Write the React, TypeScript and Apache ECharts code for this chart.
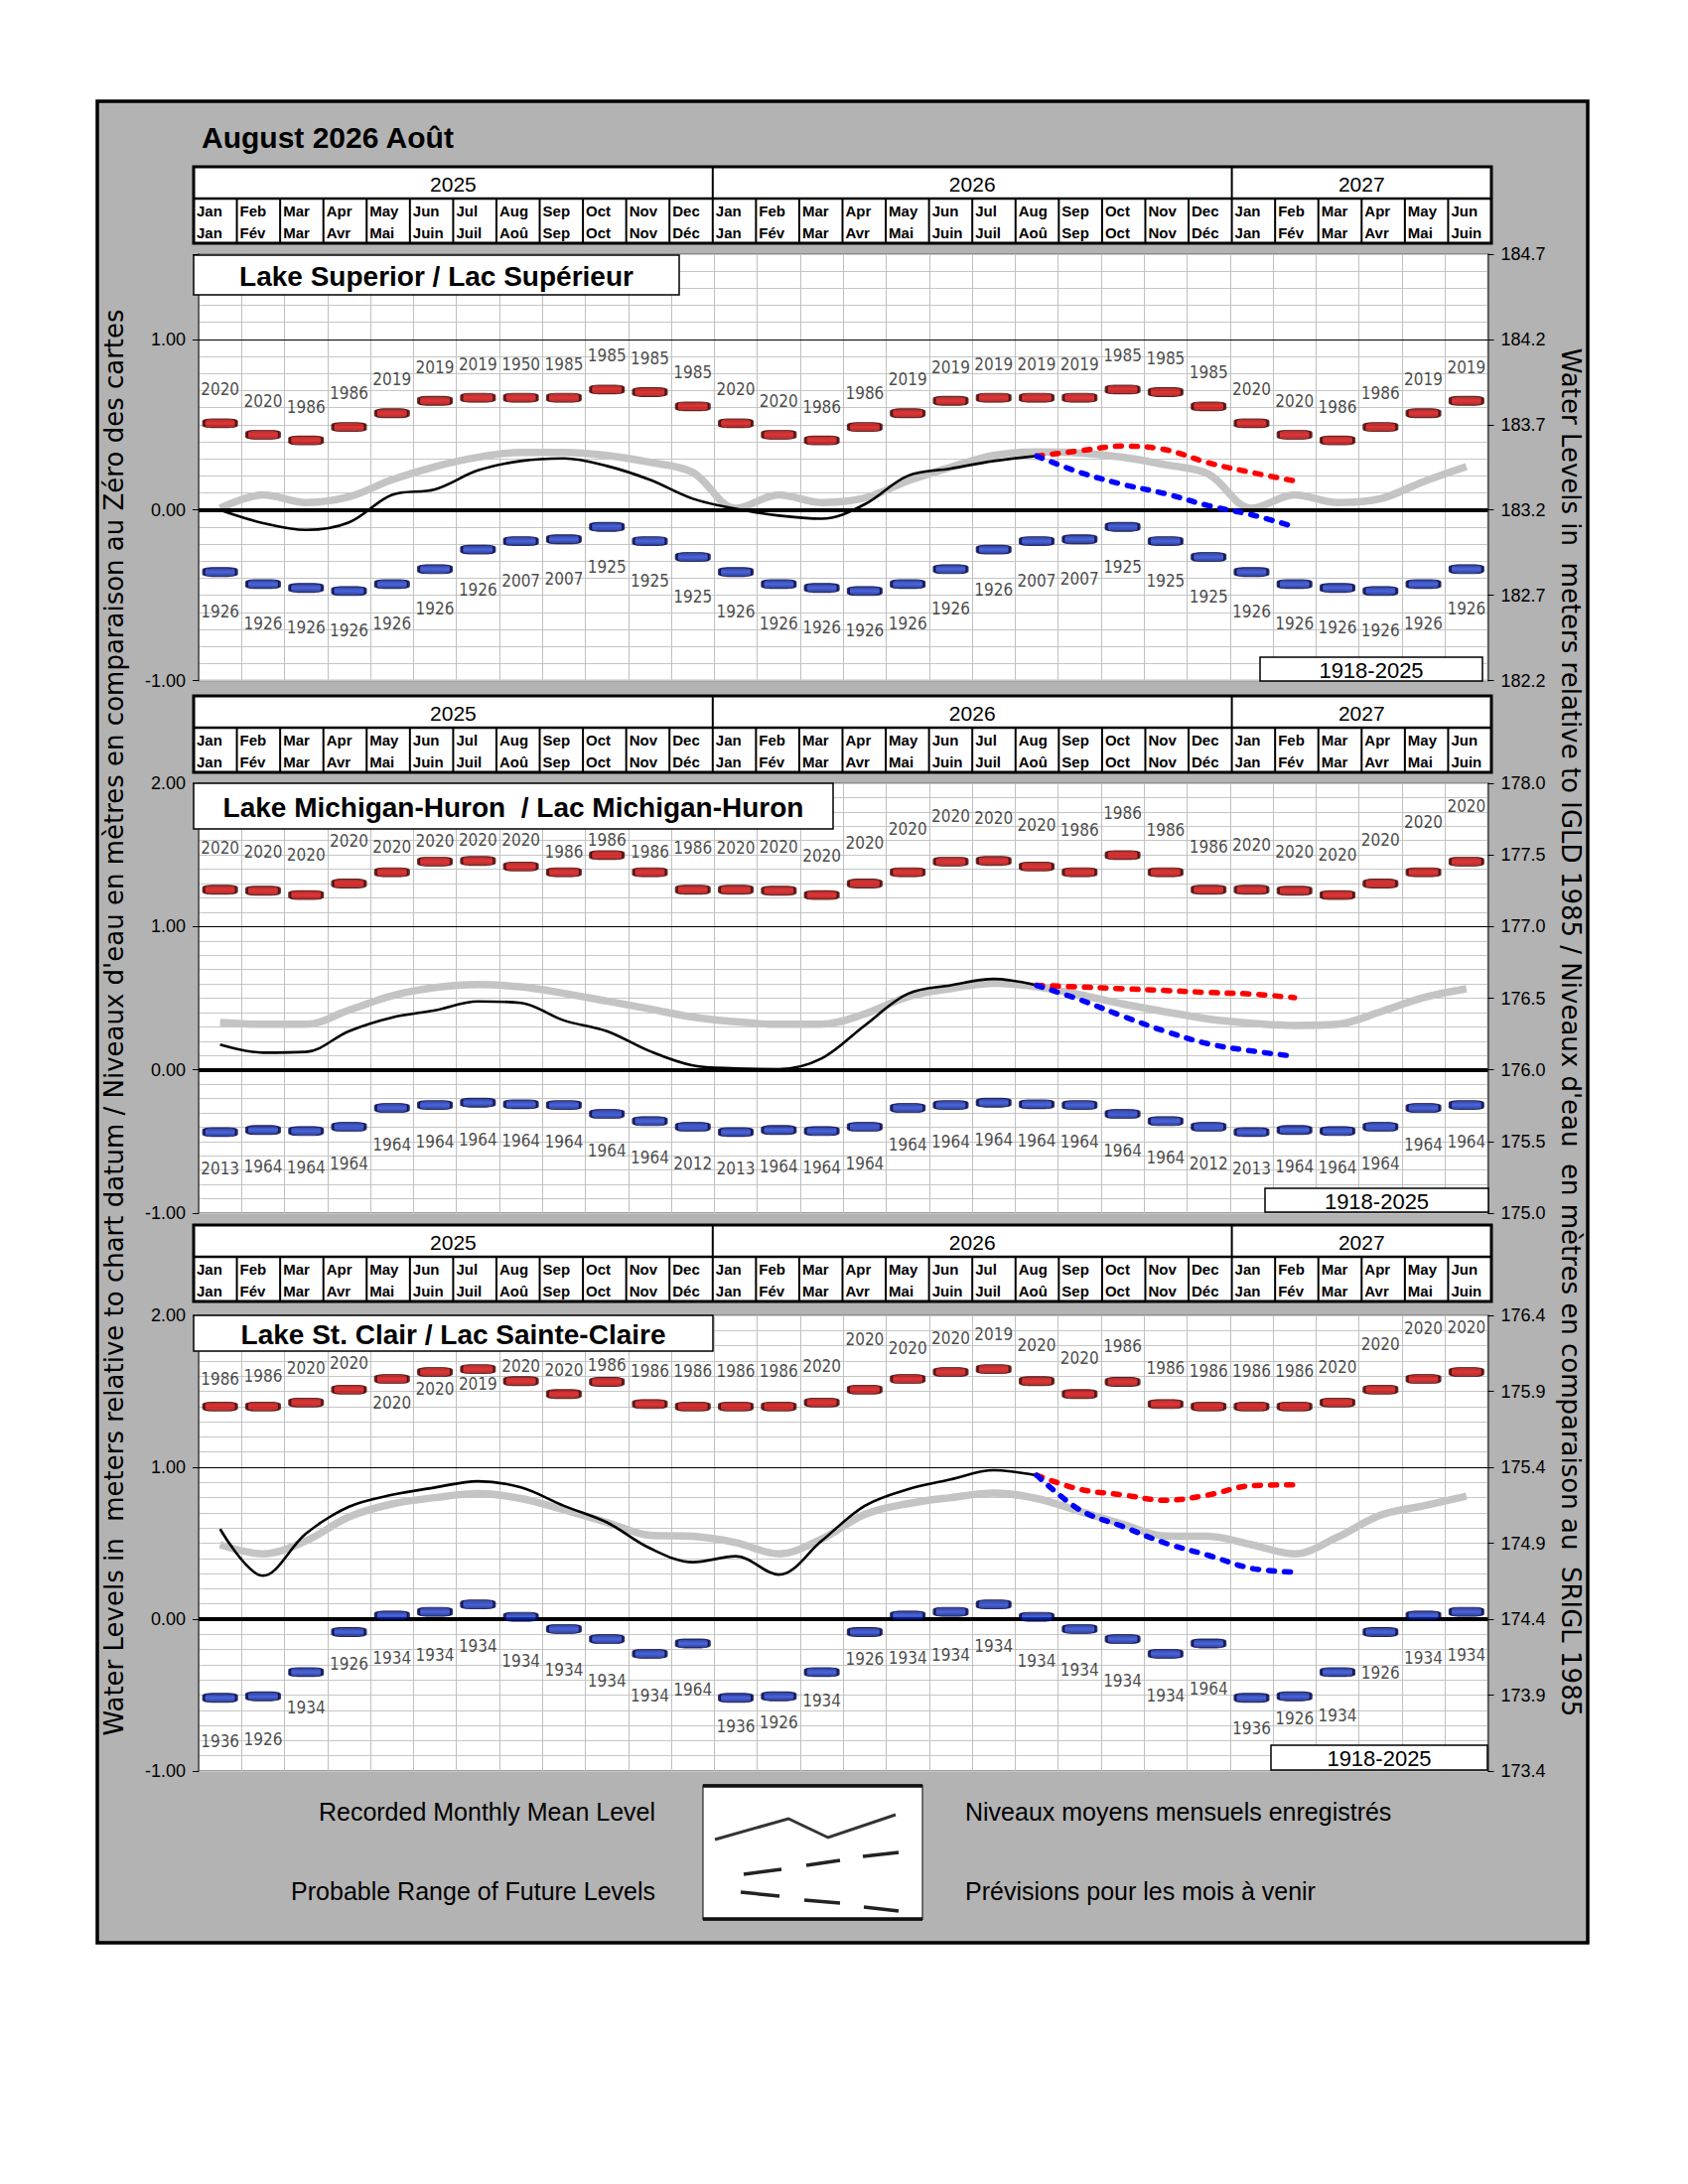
import React, { useEffect, useRef } from "react";
import * as echarts from "echarts";

// ---------------- DATA ----------------
const MONTHS_EN = ["Jan", "Feb", "Mar", "Apr", "May", "Jun", "Jul", "Aug", "Sep", "Oct", "Nov", "Dec"];
const MONTHS_FR = ["Jan", "Fév", "Mar", "Avr", "Mai", "Juin", "Juil", "Aoû", "Sep", "Oct", "Nov", "Déc"];
const YEARS = ["2025", "2026", "2027"];
const YEAR_SPANS = [12, 12, 6];
const PERIOD = "1918-2025";
const TITLE = "August 2026 Août";
const RECORDED_START = 0; // Jan 2025
const FORECAST_START = 19; // Aug 2026

// Lake Superior (m relative to chart datum 183.2)
const superiorDatum = 183.2;
const superiorAverage = [0.01, 0.088, 0.044, 0.077, 0.177, 0.254, 0.309, 0.338, 0.338, 0.32, 0.28, 0.22,
  0.01, 0.088, 0.044, 0.07, 0.17, 0.25, 0.32, 0.34, 0.335, 0.31, 0.265, 0.21,
  0.01, 0.088, 0.044, 0.066, 0.166, 0.254];
const superiorRecorded = [0.0, -0.077, -0.117, -0.073, 0.088, 0.121, 0.232, 0.287, 0.302, 0.258, 0.177, 0.066,
  0.007, -0.033, -0.051, 0.033, 0.2, 0.243, 0.287, 0.316];
const superiorForecastHigh = [0.316, 0.347, 0.375, 0.353, 0.276, 0.22, 0.17];
const superiorForecastLow = [0.316, 0.221, 0.15, 0.095, 0.025, -0.028, -0.099];
const superiorMax = [0.508, 0.441, 0.408, 0.486, 0.567, 0.64, 0.658, 0.658, 0.658, 0.706, 0.691, 0.607,
  0.508, 0.441, 0.408, 0.486, 0.567, 0.64, 0.658, 0.658, 0.658, 0.706, 0.691, 0.607,
  0.508, 0.441, 0.408, 0.486, 0.567, 0.64];
const superiorMin = [-0.364, -0.435, -0.457, -0.475, -0.435, -0.347, -0.232, -0.183, -0.172, -0.099, -0.183, -0.276,
  -0.364, -0.435, -0.457, -0.475, -0.435, -0.347, -0.232, -0.183, -0.172, -0.099, -0.183, -0.276,
  -0.364, -0.435, -0.457, -0.475, -0.435, -0.347];
const superiorMaxYear = ["2020", "2020", "1986", "1986", "2019", "2019", "2019", "1950", "1985", "1985", "1985", "1985",
  "2020", "2020", "1986", "1986", "2019", "2019", "2019", "2019", "2019", "1985", "1985", "1985",
  "2020", "2020", "1986", "1986", "2019", "2019"];
const superiorMinYear = ["1926", "1926", "1926", "1926", "1926", "1926", "1926", "2007", "2007", "1925", "1925", "1925",
  "1926", "1926", "1926", "1926", "1926", "1926", "1926", "2007", "2007", "1925", "1925", "1925",
  "1926", "1926", "1926", "1926", "1926", "1926"];

// Lake Michigan-Huron (datum 176.0)
const michiganDatum = 176.0;
const michiganAverage = [0.33, 0.318, 0.318, 0.417, 0.517, 0.574, 0.596, 0.579, 0.534, 0.48, 0.425, 0.368,
  0.335, 0.318, 0.318, 0.39, 0.51, 0.566, 0.604, 0.579, 0.524, 0.46, 0.405, 0.355,
  0.325, 0.31, 0.318, 0.405, 0.504, 0.566];
const michiganRecorded = [0.176, 0.12, 0.125, 0.27, 0.365, 0.415, 0.478, 0.467, 0.345, 0.27, 0.13, 0.03,
  0.01, 0.005, 0.08, 0.31, 0.53, 0.59, 0.634, 0.59];
const michiganForecastHigh = [0.59, 0.579, 0.566, 0.554, 0.54, 0.529, 0.504];
const michiganForecastLow = [0.59, 0.49, 0.375, 0.268, 0.181, 0.132, 0.094];
const michiganMax = [1.257, 1.25, 1.22, 1.3, 1.379, 1.453, 1.458, 1.419, 1.379, 1.498, 1.379, 1.257,
  1.257, 1.25, 1.22, 1.3, 1.379, 1.453, 1.458, 1.419, 1.379, 1.498, 1.379, 1.257,
  1.257, 1.25, 1.22, 1.3, 1.379, 1.453];
const michiganMin = [-0.435, -0.42, -0.427, -0.398, -0.266, -0.246, -0.229, -0.241, -0.246, -0.308, -0.358, -0.398,
  -0.435, -0.42, -0.427, -0.398, -0.266, -0.246, -0.229, -0.241, -0.246, -0.308, -0.358, -0.398,
  -0.435, -0.42, -0.427, -0.398, -0.266, -0.246];
const michiganMaxYear = ["2020", "2020", "2020", "2020", "2020", "2020", "2020", "2020", "1986", "1986", "1986", "1986",
  "2020", "2020", "2020", "2020", "2020", "2020", "2020", "2020", "1986", "1986", "1986", "1986",
  "2020", "2020", "2020", "2020", "2020", "2020"];
const michiganMinYear = ["2013", "1964", "1964", "1964", "1964", "1964", "1964", "1964", "1964", "1964", "1964", "2012",
  "2013", "1964", "1964", "1964", "1964", "1964", "1964", "1964", "1964", "1964", "1964", "2012",
  "2013", "1964", "1964", "1964", "1964", "1964"];

// Lake St. Clair (datum 174.4)
const stClairDatum = 174.4;
const stClairAverage = [0.49, 0.43, 0.516, 0.673, 0.758, 0.8, 0.826, 0.794, 0.72, 0.637, 0.552, 0.545,
  0.504, 0.43, 0.528, 0.69, 0.76, 0.8, 0.83, 0.794, 0.71, 0.625, 0.547, 0.545,
  0.49, 0.43, 0.54, 0.685, 0.746, 0.81];
const stClairRecorded = [0.593, 0.286, 0.564, 0.74, 0.818, 0.867, 0.908, 0.867, 0.746, 0.637, 0.467, 0.375,
  0.414, 0.293, 0.516, 0.746, 0.855, 0.92, 0.98, 0.947];
const stClairForecastHigh = [0.947, 0.855, 0.818, 0.782, 0.818, 0.879, 0.884];
const stClairForecastLow = [0.947, 0.72, 0.61, 0.5, 0.42, 0.334, 0.31];
const stClairMax = [1.4, 1.4, 1.426, 1.511, 1.581, 1.627, 1.646, 1.567, 1.482, 1.562, 1.416, 1.4,
  1.4, 1.4, 1.426, 1.511, 1.581, 1.627, 1.646, 1.567, 1.482, 1.562, 1.416, 1.4,
  1.4, 1.4, 1.426, 1.511, 1.581, 1.627];
const stClairMin = [-0.518, -0.508, -0.349, -0.085, 0.024, 0.048, 0.097, 0.015, -0.065, -0.131, -0.228, -0.16,
  -0.518, -0.508, -0.349, -0.085, 0.024, 0.048, 0.097, 0.015, -0.065, -0.131, -0.228, -0.16,
  -0.518, -0.508, -0.349, -0.085, 0.024, 0.048];
const stClairMaxYear = ["1986", "1986", "2020", "2020", "2020", "2020", "2019", "2020", "2020", "1986", "1986", "1986",
  "1986", "1986", "2020", "2020", "2020", "2020", "2019", "2020", "2020", "1986", "1986", "1986",
  "1986", "1986", "2020", "2020", "2020", "2020"];
const stClairMinYear = ["1936", "1926", "1934", "1926", "1934", "1934", "1934", "1934", "1934", "1934", "1934", "1964",
  "1936", "1926", "1934", "1926", "1934", "1934", "1934", "1934", "1934", "1934", "1934", "1964",
  "1936", "1926", "1934", "1926", "1934", "1934"];

// ---------------- LAYOUT (label placement, px) ----------------
const superiorMaxLabelRise = 34;
const superiorMinLabelDrop = 40;
const michiganMaxLabelRise = [42, 39, 41, 43, 26, 21, 21, 27, 21, 15, 21, 42, 42, 44, 40, 41, 44, 46, 43, 42, 43, 42, 43, 43, 45, 39, 41, 44, 51, 56];
const michiganMinLabelDrop = 37;
const stClairMaxLabelRise = [28, 31, 35, 27, -24, -17, -15, 15, 24, 17, 33, 36, 36, 36, 37, 51, 31, 34, 35, 36, 36, 36, 36, 36, 36, 36, 36, 46, 51, 45];
const stClairMinLabelDrop = [44, 43, 36, 32, 43, 43, 42, 44, 41, 42, 42, 47, 29, 26, 29, 27, 43, 43, 42, 44, 41, 42, 42, 46, 31, 22, 44, 41, 43, 43];

const PLOT_LEFT = 200;
const PLOT_RIGHT = 1498.5;
const HEAD_LEFT = 195;
const HEAD_RIGHT = 1502;
const N_MONTHS = 30;

const FONT = '"Liberation Sans", Arial, sans-serif';
const WIDE = '"DejaVu Sans", Verdana, sans-serif';
const NARROW = '"Liberation Sans Narrow", "Arial Narrow", "DejaVu Sans Condensed", "Liberation Sans", sans-serif';

const PANELS = [
  {
    title: "Lake Superior / Lac Supérieur", datum: superiorDatum, axisMin: -1, axisMax: 1.5,
    plotTop: 256, plotBottom: 685.5, headerTop: 168, titleBox: [195, 257, 684, 297], periodBox: [1269, 662, 1493, 686],
    average: superiorAverage, recorded: superiorRecorded, high: superiorForecastHigh, low: superiorForecastLow,
    maxVals: superiorMax, minVals: superiorMin, maxYear: superiorMaxYear, minYear: superiorMinYear,
    rise: superiorMaxLabelRise, drop: superiorMinLabelDrop,
  },
  {
    title: "Lake Michigan-Huron  / Lac Michigan-Huron", datum: michiganDatum, axisMin: -1, axisMax: 2,
    plotTop: 789, plotBottom: 1222, headerTop: 701, titleBox: [195, 789, 839, 835], periodBox: [1274, 1197, 1499, 1221],
    average: michiganAverage, recorded: michiganRecorded, high: michiganForecastHigh, low: michiganForecastLow,
    maxVals: michiganMax, minVals: michiganMin, maxYear: michiganMaxYear, minYear: michiganMinYear,
    rise: michiganMaxLabelRise, drop: michiganMinLabelDrop,
  },
  {
    title: "Lake St. Clair / Lac Sainte-Claire", datum: stClairDatum, axisMin: -1, axisMax: 2,
    plotTop: 1325, plotBottom: 1784, headerTop: 1234, titleBox: [195, 1325, 718, 1361], periodBox: [1280, 1758, 1498, 1783],
    average: stClairAverage, recorded: stClairRecorded, high: stClairForecastHigh, low: stClairForecastLow,
    maxVals: stClairMax, minVals: stClairMin, maxYear: stClairMaxYear, minYear: stClairMinYear,
    rise: stClairMaxLabelRise, drop: stClairMinLabelDrop,
  },
];

const pick = (v: number | number[], i: number) => (Array.isArray(v) ? v[i] : v);

function txt(x: number, y: number, text: string, font: string, align = "left", vAlign = "middle", extra: any = {}) {
  return {
    type: "text", x, y, z: 100, silent: true, ...extra,
    style: { text, font, fill: "#000", align, verticalAlign: vAlign, textAlign: align, textVerticalAlign: vAlign },
  };
}

function headerGraphics(top: number) {
  const els: any[] = [];
  const mw = (HEAD_RIGHT - HEAD_LEFT) / N_MONTHS;
  const yearH = 32, h = 77;
  els.push({ type: "rect", z: 90, silent: true, shape: { x: HEAD_LEFT, y: top, width: HEAD_RIGHT - HEAD_LEFT, height: h }, style: { fill: "#fff", stroke: "#000", lineWidth: 3 } });
  els.push({ type: "line", z: 91, silent: true, shape: { x1: HEAD_LEFT, y1: top + yearH, x2: HEAD_RIGHT, y2: top + yearH }, style: { stroke: "#000", lineWidth: 2.5 } });
  let k = 0;
  YEARS.forEach((y, yi) => {
    const x0 = HEAD_LEFT + k * mw;
    const x1 = HEAD_LEFT + (k + YEAR_SPANS[yi]) * mw;
    els.push(txt((x0 + x1) / 2, top + yearH / 2 + 1, y, `21px ${FONT}`, "center"));
    if (k > 0) els.push({ type: "line", z: 91, silent: true, shape: { x1: x0, y1: top, x2: x0, y2: top + yearH }, style: { stroke: "#000", lineWidth: 2 } });
    k += YEAR_SPANS[yi];
  });
  for (let i = 0; i < N_MONTHS; i++) {
    const x0 = HEAD_LEFT + i * mw;
    if (i > 0) els.push({ type: "line", z: 91, silent: true, shape: { x1: x0, y1: top + yearH, x2: x0, y2: top + h }, style: { stroke: "#000", lineWidth: 2 } });
    els.push(txt(x0 + 3, top + yearH + 12, MONTHS_EN[i % 12], `bold 15px ${FONT}`));
    els.push(txt(x0 + 3, top + yearH + 34, MONTHS_FR[i % 12], `bold 15px ${FONT}`));
  }
  return els;
}

function buildOption() {
  const grid: any[] = [], xAxis: any[] = [], yAxis: any[] = [], series: any[] = [], graphic: any[] = [];

  graphic.push({ type: "rect", z: -10, silent: true, shape: { x: 98, y: 102, width: 1501, height: 1855 }, style: { fill: "#b3b3b3", stroke: "#000", lineWidth: 3.5 } });
  graphic.push(txt(203, 138, TITLE, `bold 30px ${FONT}`));

  PANELS.forEach((p, pi) => {
    grid.push({ left: PLOT_LEFT, width: PLOT_RIGHT - PLOT_LEFT, top: p.plotTop, height: p.plotBottom - p.plotTop, show: true, backgroundColor: "#fff", borderColor: "#808080", borderWidth: 1.5 });
    xAxis.push({ gridIndex: pi, type: "value", min: 0, max: N_MONTHS, interval: 1, axisLine: { show: false }, axisTick: { show: false }, axisLabel: { show: false }, splitLine: { show: true, lineStyle: { color: "#c0c0c0", width: 1 } } });
    yAxis.push({ gridIndex: pi, type: "value", min: p.axisMin, max: p.axisMax, interval: 0.1, position: "left", axisLine: { show: false }, axisTick: { show: false }, axisLabel: { show: false }, splitLine: { show: true, lineStyle: { color: "#c6c6c6", width: 1 } } });
    yAxis.push({
      gridIndex: pi, type: "value", min: p.axisMin, max: p.axisMax, interval: 1, position: "left",
      axisLine: { show: true, onZero: false, lineStyle: { color: "#606060", width: 2 } },
      axisTick: { show: true, length: 6, lineStyle: { color: "#000", width: 1 } },
      axisLabel: { margin: 13, color: "#000", fontSize: 18, fontFamily: FONT, formatter: (v: number) => (Math.abs(v - Math.round(v)) < 1e-6 ? v.toFixed(2) : "") },
      splitLine: { show: false },
    });
    yAxis.push({
      gridIndex: pi, type: "value", min: p.axisMin, max: p.axisMax, interval: 0.5, position: "right",
      axisLine: { show: true, onZero: false, lineStyle: { color: "#606060", width: 2 } },
      axisTick: { show: true, length: 6, lineStyle: { color: "#000", width: 1 } },
      axisLabel: { margin: 13, color: "#000", fontSize: 18, fontFamily: FONT, formatter: (v: number) => (v + p.datum).toFixed(1) },
      splitLine: { show: false },
    });
    const yi = pi * 3;
    const common = { xAxisIndex: pi, yAxisIndex: yi, silent: true, animation: false, symbol: "none" };
    series.push({ ...common, type: "line", z: 2, smooth: 0.35, data: p.average.map((v, i) => [i + 0.5, v]), lineStyle: { color: "#c4c4c4", width: 7.5 } });
    series.push({
      ...common, type: "line", z: 4, smooth: 0.35, data: p.recorded.map((v, i) => [RECORDED_START + i + 0.5, v]), lineStyle: { color: "#000", width: 2.6 },
      markLine: {
        silent: true, symbol: "none", label: { show: false }, animation: false,
        data: [
          { yAxis: 0, lineStyle: { color: "#000", width: 4, type: "solid" } },
          { yAxis: 1, lineStyle: { color: "#000", width: 1, type: "solid" } },
        ],
      },
    });
    series.push({ ...common, type: "line", z: 5, smooth: 0.35, data: p.high.map((v, i) => [FORECAST_START + i + 0.5, v]), lineStyle: { color: "#ff0000", width: 5.5, type: [6, 10], cap: "round" } });
    series.push({ ...common, type: "line", z: 5, smooth: 0.35, data: p.low.map((v, i) => [FORECAST_START + i + 0.5, v]), lineStyle: { color: "#0000ff", width: 5.5, type: [6, 10], cap: "round" } });
    const labelBase = { show: true, position: "inside", formatter: "{b}", fontSize: 17, fontFamily: NARROW, color: "#1a1a1a" };
    series.push({
      ...common, type: "scatter", z: 6, symbol: "roundRect", symbolSize: [33, 9],
      itemStyle: { color: new echarts.graphic.LinearGradient(0, 0, 0, 1, [{ offset: 0, color: "#8a0000" }, { offset: 0.5, color: "#dd0000" }, { offset: 1, color: "#8a0000" }]), borderColor: "#3a0000", borderWidth: 1.6 },
      label: labelBase,
      data: p.maxVals.map((v, i) => ({ value: [i + 0.5, v], name: p.maxYear[i], label: { offset: [0, -pick(p.rise, i)] } })),
    });
    series.push({
      ...common, type: "scatter", z: 6, symbol: "roundRect", symbolSize: [33, 9],
      itemStyle: { color: new echarts.graphic.LinearGradient(0, 0, 0, 1, [{ offset: 0, color: "#001070" }, { offset: 0.5, color: "#1a3ed8" }, { offset: 1, color: "#001070" }]), borderColor: "#000040", borderWidth: 1.6 },
      label: labelBase,
      data: p.minVals.map((v, i) => ({ value: [i + 0.5, v], name: p.minYear[i], label: { offset: [0, pick(p.drop, i)] } })),
    });

    graphic.push(...headerGraphics(p.headerTop));
    const [bx0, by0, bx1, by1] = p.titleBox;
    graphic.push({ type: "rect", z: 95, silent: true, shape: { x: bx0, y: by0, width: bx1 - bx0, height: by1 - by0 }, style: { fill: "#fff", stroke: "#000", lineWidth: 1.5 } });
    graphic.push(txt((bx0 + bx1) / 2, (by0 + by1) / 2 + 1, p.title, `bold 28px ${FONT}`, "center"));
    const [qx0, qy0, qx1, qy1] = p.periodBox;
    graphic.push({ type: "rect", z: 95, silent: true, shape: { x: qx0, y: qy0, width: qx1 - qx0, height: qy1 - qy0 }, style: { fill: "#fff", stroke: "#000", lineWidth: 1.5 } });
    graphic.push(txt((qx0 + qx1) / 2, (qy0 + qy1) / 2 + 1, PERIOD, `22px ${FONT}`, "center"));
  });

  // axis titles
  graphic.push(txt(115, 1030, "Water Levels in  meters relative to chart datum / Niveaux d'eau en mètres en comparaison au Zéro des cartes", `26px ${WIDE}`, "center", "middle", { rotation: Math.PI / 2 }));
  graphic.push(txt(1582, 1040, "Water Levels in  meters relative to IGLD 1985 / Niveaux d'eau  en mètres en comparaison au  SRIGL 1985", `26px ${WIDE}`, "center", "middle", { rotation: -Math.PI / 2 }));

  // legend
  graphic.push({ type: "rect", z: 95, silent: true, shape: { x: 708, y: 1798, width: 221, height: 136 }, style: { fill: "#fff", stroke: "#000", lineWidth: 1 } });
  graphic.push({ type: "line", z: 96, silent: true, shape: { x1: 708, y1: 1799, x2: 929, y2: 1799 }, style: { stroke: "#111", lineWidth: 3.5 } });
  graphic.push({ type: "line", z: 96, silent: true, shape: { x1: 708, y1: 1933, x2: 929, y2: 1933 }, style: { stroke: "#111", lineWidth: 3.5 } });
  graphic.push({ type: "polyline", z: 96, silent: true, shape: { points: [[720, 1853], [794, 1832], [834, 1851], [902, 1828]] }, style: { stroke: "#333", lineWidth: 3, fill: "none" } });
  const dashes = [
    [749, 1888, 787, 1883], [812, 1879, 846, 1874], [869, 1870, 905, 1866],
    [746, 1906, 785, 1910], [810, 1914, 846, 1917], [870, 1921, 905, 1925],
  ];
  dashes.forEach(([x1, y1, x2, y2]) => graphic.push({ type: "line", z: 96, silent: true, shape: { x1, y1, x2, y2 }, style: { stroke: "#222", lineWidth: 3.5 } }));
  graphic.push(txt(660, 1825, "Recorded Monthly Mean Level", `25px ${FONT}`, "right"));
  graphic.push(txt(660, 1905, "Probable Range of Future Levels", `25px ${FONT}`, "right"));
  graphic.push(txt(972, 1825, "Niveaux moyens mensuels enregistrés", `25px ${FONT}`, "left"));
  graphic.push(txt(972, 1905, "Prévisions pour les mois à venir", `25px ${FONT}`, "left"));

  return { animation: false, backgroundColor: "#ffffff", grid, xAxis, yAxis, series, graphic };
}

export default function App() {
  const ref = useRef<HTMLDivElement>(null);
  useEffect(() => {
    if (!ref.current) return;
    const chart = echarts.init(ref.current, undefined, { renderer: "svg" });
    chart.setOption(buildOption() as any);
    return () => chart.dispose();
  }, []);
  return <div ref={ref} style={{ position: "absolute", left: 0, top: 0, width: 1700, height: 2200 }} />;
}
